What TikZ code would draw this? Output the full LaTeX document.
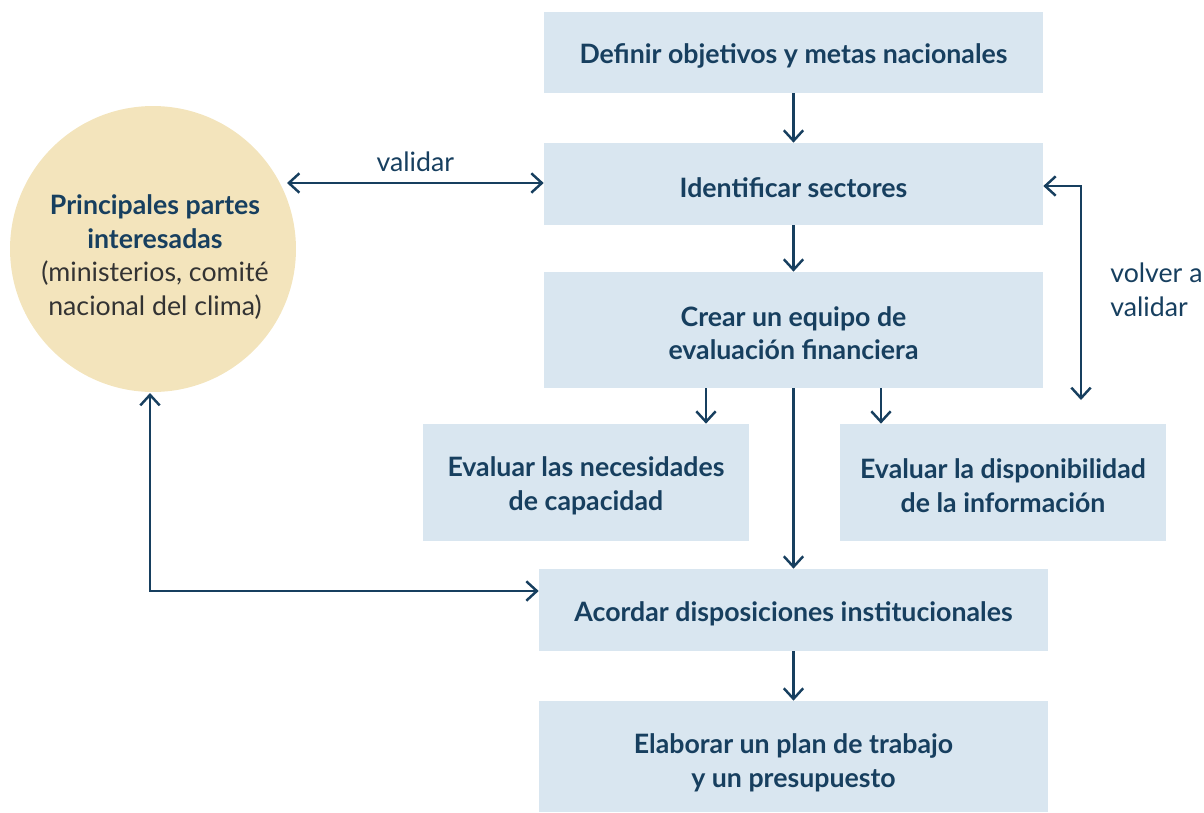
\documentclass[tikz,border=0pt]{standalone}
\usepackage{fontspec}
\setmainfont{Lato}
\usetikzlibrary{arrows.meta,calc}
\definecolor{boxblue}{HTML}{D9E6F0}
\definecolor{navy}{HTML}{173F5F}
\definecolor{sand}{HTML}{F3E4BC}
\definecolor{graytext}{HTML}{333333}
\tikzset{
  boxbase/.style={fill=boxblue, draw=none, inner sep=0pt, align=center,
    font=\fontsize{15.2}{19.3}\selectfont\bfseries, text=navy},
  stepbox/.style={boxbase, execute at begin node={\rule{0pt}{15.5pt}}},
  twobox/.style={boxbase, text height=34.2pt},
  lowbox/.style={boxbase, text height=37.6pt},
  arr/.style={draw=navy, line width=1.4pt, -{Straight Barb[length=6pt,width=11pt,line width=1.4pt]}},
  darr/.style={draw=navy, line width=1.4pt, {Straight Barb[length=6pt,width=11pt,line width=1.4pt]}-{Straight Barb[length=6pt,width=11pt,line width=1.4pt]}},
  lbl/.style={font=\fontsize{15.2}{19.3}\selectfont, text=navy, inner sep=0pt},
}
\begin{document}
\begin{tikzpicture}[x=0.02cm,y=-0.02cm]
\useasboundingbox (0,0) rectangle (1204,812);
\node[stepbox, minimum width=9.98cm, minimum height=1.62cm] (b1) at (793.5,52.5) {Definir objetivos y metas nacionales};
\node[stepbox, minimum width=9.98cm, minimum height=1.64cm] (b2) at (793.5,184) {Identificar sectores};
\node[twobox, minimum width=9.98cm, minimum height=2.32cm] (b3) at (793.5,330) {Crear un equipo de\\evaluación financiera};
\node[twobox, minimum width=6.52cm, minimum height=2.34cm] (b4) at (586,482.5) {Evaluar las necesidades\\de capacidad};
\node[twobox, minimum width=6.52cm, minimum height=2.34cm] (b5) at (1003,482.5) {Evaluar la disponibilidad\\de la información};
\node[stepbox, minimum width=10.18cm, minimum height=1.64cm] (b6) at (793.5,610) {Acordar disposiciones institucionales};
\node[lowbox, minimum width=10.18cm, minimum height=2.22cm] (b7) at (793.5,756.5) {Elaborar un plan de trabajo\\y un presupuesto};
\node[circle, fill=sand, draw=none, minimum size=5.72cm, inner sep=0pt] (pi) at (153,249) {};
\node[align=center, inner sep=0pt, font=\fontsize{15.2}{19.3}\selectfont] (pit) at (155,257) {\color{navy}\bfseries Principales partes\\\color{navy}\bfseries interesadas\\\color{graytext}\mdseries (ministerios, comité\\\color{graytext}\mdseries nacional del clima)};
% helper coordinates
\coordinate (x706) at (706,0);
\coordinate (x881) at (881,0);
\coordinate (x287) at (287,0);
\coordinate (y183) at (0,183);
\coordinate (y591) at (0,591);
\coordinate (cb) at (150,393);
\coordinate (cbb) at (150,591);
\coordinate (vb) at (1081,400);
\coordinate (vt) at (1081,186);
% arrows
\draw[arr] (b1.south) -- (b2.north);
\draw[arr] (b2.south) -- (b3.north);
\draw[arr] (b3.south -| x706) -- (b4.north -| x706);
\draw[arr] (b3.south -| x881) -- (b5.north -| x881);
\draw[arr] (b3.south) -- (b6.north);
\draw[arr] (b6.south) -- (b7.north);
\draw[darr] (b2.west |- y183) -- (x287 |- y183) node[lbl, midway, above=6pt] (vl) {validar};
\draw[darr] (cb) -- (cbb) -- (b6.west |- y591);
\draw[darr] (vb) -- (vt) -- (b2.east |- vt);
\node[lbl, anchor=west, align=left] (vv) at (1110,290) {volver a\\validar};
\end{tikzpicture}
\end{document}
